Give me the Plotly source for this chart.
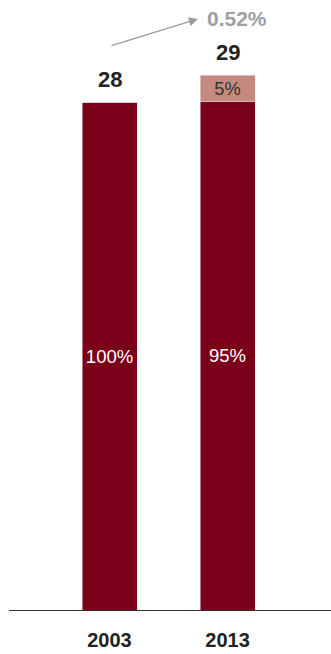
import plotly.graph_objects as go

# Employment totals (millions) and composition shares
years = ["2003", "2013"]
totals = [28.0, 29.49]
share_main = [1.00, 0.95]
share_other = [0.00, 0.05]
cagr_label = "0.52%"

main_vals = [t * s for t, s in zip(totals, share_main)]
other_vals = [t * s for t, s in zip(totals, share_other)]

DARK = "#7b0019"
LIGHT = "#c48a80"
FONT = "Liberation Sans, Arial, Helvetica, sans-serif"

fig = go.Figure()
fig.add_trace(go.Bar(
    x=years, y=main_vals, marker_color=DARK, width=0.466,
    text=[f"{s:.0%}" for s in share_main], textposition="inside",
    insidetextanchor="middle",
    textfont=dict(color="white", size=18.5, family=FONT),
    hoverinfo="skip",
))
fig.add_trace(go.Bar(
    x=years, y=other_vals, marker_color=LIGHT, width=0.466,
    text=[f"{s:.0%}" if s > 0 else "" for s in share_other],
    textposition="inside", insidetextanchor="middle",
    textfont=dict(color="#333333", size=18.5, family=FONT),
    hoverinfo="skip",
))

# Total labels above each stack (x given as category index)
for i, t in enumerate(totals):
    fig.add_annotation(
        x=i, y=t, text=f"<b>{t:.0f}</b>", showarrow=False,
        yanchor="bottom", yshift=8,
        font=dict(size=22, color="#222222", family=FONT),
    )

# Growth arrow with CAGR label
fig.add_annotation(
    x=0.75, y=32.58, ax=0.004, ay=31.09, xref="x", yref="y",
    axref="x", ayref="y", text="", showarrow=True,
    arrowhead=2, arrowsize=1.4, arrowwidth=1.3, arrowcolor="#9a9a9a",
)
fig.add_annotation(
    x=1.08, y=32.6, text=f"<b>{cagr_label}</b>", showarrow=False,
    font=dict(size=21, color="#a0a0a0", family=FONT),
)

fig.update_layout(
    barmode="stack", width=331, height=654,
    margin=dict(l=9, r=0, t=0, b=44),
    paper_bgcolor="white", plot_bgcolor="white",
    showlegend=False,
    font=dict(family=FONT),
    xaxis=dict(
        type="category", range=[-0.8517, 1.877], showgrid=False,
        showline=True, linecolor="#333333", linewidth=1,
        ticks="", ticklabelstandoff=12,
        tickfont=dict(size=20, color="#222222", family=FONT),
        tickprefix="<b>", ticksuffix="</b>", fixedrange=True,
    ),
    yaxis=dict(
        range=[0, 33.63], visible=False, showgrid=False, zeroline=False,
        fixedrange=True,
    ),
)

fig.write_html("out.html")
